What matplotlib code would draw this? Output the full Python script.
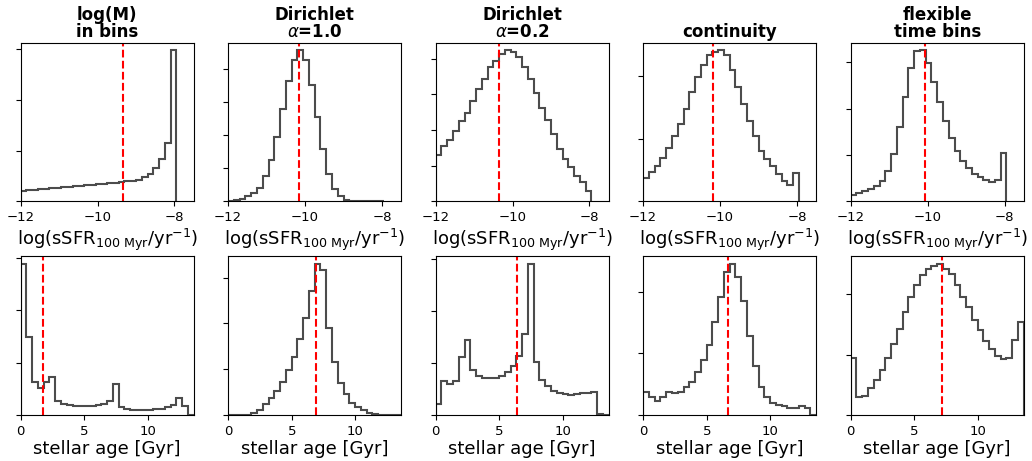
import matplotlib
matplotlib.use("Agg")
import matplotlib.pyplot as plt
from matplotlib.ticker import MultipleLocator
import numpy as np

# panel titles (one per column / prior)
titles = ["log(M)\nin bins", "Dirichlet\n$\\alpha$=1.0", "Dirichlet\n$\\alpha$=0.2",
          "continuity", "flexible\ntime bins"]

# sSFR histograms: 27 bins of 0.15 dex starting at -12 (relative heights)
ssfr_edges = -12 + 0.15 * np.arange(28)
ssfr_logm = [0.21, 0.22, 0.23, 0.24, 0.25, 0.26, 0.27, 0.28, 0.29, 0.30, 0.31, 0.32, 0.33, 0.34,
             0.35, 0.36, 0.37, 0.38, 0.40, 0.41, 0.43, 0.48, 0.54, 0.66, 0.83, 1.16, 2.98]
ssfr_dir10 = [0.02, 0.04, 0.08, 0.15, 0.25, 0.40, 0.76, 1.26, 1.94, 2.80, 3.64, 4.26, 4.55, 4.26,
              3.51, 2.53, 1.57, 0.83, 0.37, 0.15, 0.05, 0.02, 0.01, 0.005, 0.003, 0.002, 0.001]
ssfr_dir02 = [1.31, 1.55, 1.72, 1.97, 2.25, 2.49, 2.82, 3.15, 3.43, 3.76, 3.94, 4.13, 4.23, 4.18,
              4.04, 3.76, 3.43, 3.04, 2.63, 2.27, 1.88, 1.47, 1.19, 0.96, 0.72, 0.54, 0.28]
ssfr_cont = [0.37, 0.47, 0.57, 0.70, 0.86, 1.04, 1.23, 1.48, 1.74, 1.98, 2.18, 2.33, 2.39, 2.41,
             2.33, 2.09, 1.82, 1.55, 1.28, 1.04, 0.80, 0.67, 0.56, 0.43, 0.32, 0.27, 0.45]
ssfr_flex = [0.14, 0.18, 0.22, 0.27, 0.34, 0.45, 0.65, 1.02, 1.60, 2.24, 2.87, 3.23, 3.25, 2.99,
             2.57, 2.15, 1.74, 1.36, 1.09, 0.86, 0.71, 0.58, 0.52, 0.46, 0.41, 0.46, 1.04]
ssfr_median = [-9.35, -10.16, -10.35, -10.19, -10.08]

# stellar age histograms: 30 bins between 0 and 13.6 Gyr
age_edges = np.linspace(0, 13.6, 31)
age_logm = [2.88, 1.49, 0.63, 0.51, 0.62, 0.72, 0.26, 0.21, 0.19, 0.18, 0.17, 0.17, 0.18, 0.19, 0.21,
            0.26, 0.60, 0.16, 0.11, 0.10, 0.09, 0.09, 0.10, 0.11, 0.12, 0.15, 0.19, 0.33, 0.18, 0.0]
age_dir10 = [0.001, 0.002, 0.004, 0.007, 0.04, 0.11, 0.24, 0.38, 0.53, 0.73, 0.99, 1.26, 1.65, 2.12,
             2.70, 3.30, 3.17, 1.90, 1.15, 0.70, 0.45, 0.26, 0.17, 0.10, 0.05, 0.02, 0.01, 0.006,
             0.003, 0.001]
age_dir02 = [0.21, 0.65, 0.60, 0.65, 1.12, 1.44, 0.86, 0.75, 0.71, 0.71, 0.72, 0.75, 0.83, 0.94, 1.13,
             1.56, 2.90, 1.02, 0.68, 0.55, 0.46, 0.42, 0.41, 0.39, 0.40, 0.42, 0.43, 0.45, 0.02, 0.0]
age_cont = [0.38, 0.30, 0.22, 0.30, 0.38, 0.36, 0.38, 0.46, 0.54, 0.69, 0.90, 1.14, 1.51, 1.92, 2.32,
            2.45, 2.24, 1.85, 1.28, 0.79, 0.46, 0.30, 0.19, 0.16, 0.14, 0.12, 0.12, 0.15, 0.11, 0.0]
age_flex = [0.94, 0.29, 0.32, 0.44, 0.58, 0.74, 0.94, 1.18, 1.42, 1.71, 1.96, 2.15, 2.31, 2.42, 2.47,
            2.50, 2.42, 2.34, 2.15, 1.96, 1.78, 1.58, 1.41, 1.22, 1.09, 0.97, 0.93, 0.94, 1.24, 1.54]
age_median = [1.78, 6.9, 6.39, 6.68, 7.2]

ssfr_all = [ssfr_logm, ssfr_dir10, ssfr_dir02, ssfr_cont, ssfr_flex]
age_all = [age_logm, age_dir10, age_dir02, age_cont, age_flex]

fig, axes = plt.subplots(2, 5, figsize=(10.32, 4.61), dpi=100)
fig.subplots_adjust(left=0.020, right=0.992, top=0.907, bottom=0.0998, wspace=0.199, hspace=0.347)

for i in range(5):
    # top row: sSFR
    ax = axes[0, i]
    vals = np.array(ssfr_all[i])
    ax.stairs(vals, ssfr_edges, color='k', alpha=0.7, lw=1.5)
    ax.axvline(ssfr_median[i], color='r', ls='--', lw=1.5)
    ax.set_xlim(-12, -7.5)
    ax.set_ylim(0, vals.max() * 1.05)
    ax.xaxis.set_major_locator(MultipleLocator(2))
    ax.yaxis.set_major_locator(MultipleLocator(1))
    ax.tick_params(labelleft=False, labelsize=9.5)
    ax.set_xlabel('log(sSFR$_{\\rm 100\\ Myr}$/yr$^{-1}$)', fontsize=13, labelpad=2)
    ax.set_title(titles[i], fontsize=12, fontweight='bold', linespacing=0.95, pad=4)

    # bottom row: stellar age
    ax = axes[1, i]
    vals = np.array(age_all[i])
    ax.stairs(vals, age_edges, color='k', alpha=0.7, lw=1.5)
    ax.axvline(age_median[i], color='r', ls='--', lw=1.5)
    ax.set_xlim(0, 13.6)
    ax.set_ylim(0, vals.max() * 1.05)
    ax.xaxis.set_major_locator(MultipleLocator(5))
    ax.yaxis.set_major_locator(MultipleLocator(1))
    ax.tick_params(labelleft=False, labelsize=9.5)
    ax.set_xlabel('stellar age [Gyr]', fontsize=13, labelpad=2)

plt.savefig("out.png", dpi=100)
